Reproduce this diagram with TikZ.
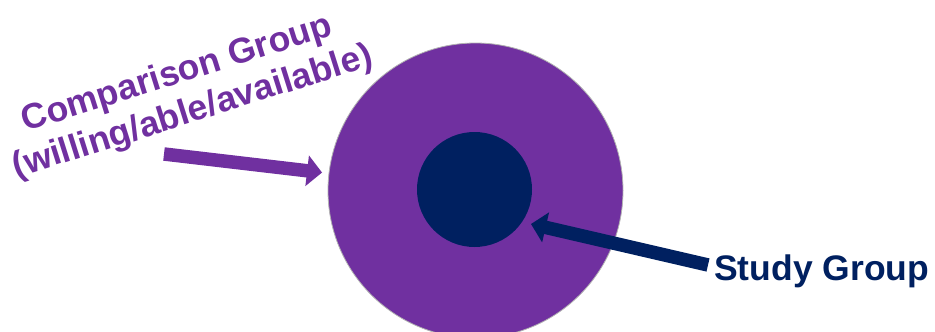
\documentclass[tikz,border=0pt]{standalone}
\usepackage{fontspec}
\setmainfont{Liberation Sans}
\usetikzlibrary{arrows.meta}
\definecolor{cpurple}{RGB}{112,48,160}
\definecolor{cnavy}{RGB}{0,32,96}
\tikzset{
  bigarrow/.style={line width=13.5pt,-{Triangle[length=15pt,width=30pt]}},
  lbl/.style={inner sep=0pt,font=\bfseries\fontsize{35.5}{41}\selectfont}
}
\begin{document}
\begin{tikzpicture}[x=1pt,y=-1pt]
\useasboundingbox (0,0) rectangle (935,332);
\clip (0,0) rectangle (935,332);
\node[circle,outer sep=0pt,minimum size=295pt,fill=cpurple,draw=gray!60,line width=0.8pt] (outer) at (475.5,190.5) {};
\node[circle,outer sep=0pt,minimum size=115pt,fill=cnavy] (inner) at (474.5,189.5) {};
\node[lbl,text=cpurple,anchor=base,rotate=17.5] (cmp1) at (180,83.3) {Comparison Group};
\node[lbl,text=cpurple,anchor=base,rotate=17.5] (cmp2) at (195.7,121.5) {(willing/able/available)};
\node[lbl,text=cnavy,anchor=base west] (sg) at (714,280) {Study Group};
\coordinate (cstart) at (164,154);
\coordinate (sstart) at (708,265);
\coordinate (stip) at (531,224);
\draw[bigarrow,cpurple,shorten >=7pt] (cstart) -- (outer);
\draw[bigarrow,cnavy] (sstart) -- (stip);
\end{tikzpicture}
\end{document}
